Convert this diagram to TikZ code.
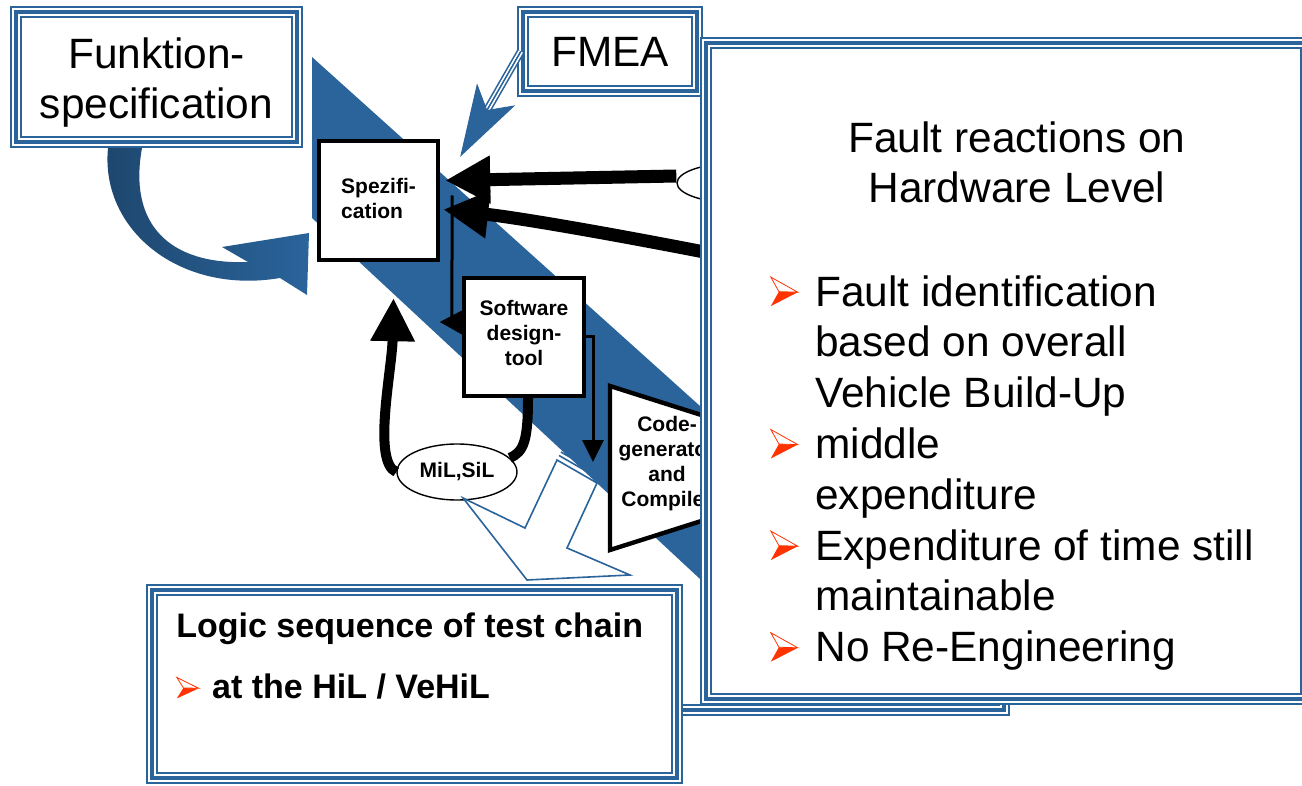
\documentclass[tikz,border=0pt]{standalone}
\usepackage{fontspec}
\setmainfont{Liberation Sans}
\usetikzlibrary{arrows.meta,calc,shapes.geometric}
\definecolor{vblue}{RGB}{42,100,155}
\definecolor{bulred}{RGB}{255,51,0}
\newcommand\hbul[2]{\tikz[x=#1,y=#2,baseline=0pt,line width=0.4pt,line join=miter]{%
	\fill[bulred] (0,0) -- (1,0.48) -- (0.3,0.5) -- cycle;
	\filldraw[draw=bulred,fill=white] (0,1) -- (1,0.48) -- (0.3,0.5) -- cycle;}}
\begin{document}
\begin{tikzpicture}[x=0.5pt, y=-0.5pt,
	triline/.style={draw=vblue, line width=2.25pt,
		preaction={draw=vblue, line width=1.25pt, double=white, double distance=3.75pt}},
	triframe/.style={rectangle, inner sep=0pt, preaction={fill=white}, triline},
	trishaft/.style={draw=vblue, line width=0.7pt,
		preaction={draw=vblue, line width=0.8pt, double=white, double distance=2.4pt}},
	blk/.style={rectangle, draw, fill=white, line width=2.2pt, inner sep=0pt,
		font=\fontsize{10.5pt}{12.5pt}\selectfont\bfseries},
	oval/.style={ellipse, draw, fill=white, line width=0.7pt, inner sep=0pt,
		minimum width=60pt, minimum height=28pt, font=\fontsize{10.5pt}{12.5pt}\selectfont\bfseries},
	bigtext/.style={font=\fontsize{21.2pt}{25pt}\selectfont},
	heavyflow/.style={line width=6.5pt, -{Triangle[length=22.5pt,width=22.5pt]}},
	thickloop/.style={line width=5pt},
	fineflow/.style={line width=1.5pt}]
	\useasboundingbox (0,0) rectangle (1302,786);
	\fill[vblue] (312,57) -- (800,496) -- (800,672) -- (312,218) -- cycle;
	\shade[left color=vblue!70!black, right color=vblue] (142,148) .. controls (128,225) and (170,265) .. (248,262)
		-- (222,247) -- (309,233) -- (307,295) -- (280,278) .. controls (180,295) and (100,230) .. (108,148) -- cycle;
	\draw[triline] (600,710) -- (1004,710) -- (1004,650);
	\node[oval, minimum height=20pt] (hil) at (737,183) {};
	\coordinate (hw) at (760,263);
	\coordinate (cgin) at (593,462);
	\filldraw[fill=white, line width=2.2pt, line join=miter] (610,386) -- (780,440) -- (780,496) -- (610,550) -- cycle;
	\node[triframe, bigtext, align=center, minimum width=140.5pt, minimum height=65pt] (fspec) at (156.5,77) {\rule{0pt}{20.5pt}Funktion-\\specification};
	\node[triframe, bigtext, minimum width=87pt, minimum height=39.5pt] (fmea) at (610,51.5) {FMEA};
	\node[blk, align=left, minimum size=59.5pt] (spez) at (378.5,200.5) {Spezifi-\\cation\rule[-2.5pt]{0pt}{2.5pt}};
	\node[blk, align=center, minimum width=60pt, minimum height=59pt] (sdt) at (524,337) {Software\\design-\\tool\rule[-4.5pt]{0pt}{4.5pt}};
	\node[oval] (mil) at (457,472) {MiL,SiL};
	\node[align=center, inner sep=0pt, font=\fontsize{10.5pt}{12.5pt}\selectfont\bfseries] (cg) at (667,464) {Code-\\generator\\and\\Compiler};
	\coordinate (fmeatip) at ([shift={(20,18)}]spez.north east);
	\draw[fineflow] ([shift={(12,-5)}]spez.east) -- ([shift={(-10,-15)}]sdt.west);
	\fill ([shift={(-22,-15)}]sdt.west) -- ++(23,-12) -- ++(0,25) -- cycle;
	\draw[fineflow, -{Triangle[length=11pt,width=10.5pt]}] (sdt.east) -| (cgin);
	\draw[heavyflow] ([shift={(0,-7)}]hil.west) -- ([shift={(5,-20)}]spez.east);
	\draw[heavyflow] (hw) .. controls (620,235) and (520,218) .. ([shift={(3,9)}]spez.east);
	\draw[thickloop] ([xshift=2pt]sdt.south) .. controls (528,440) and (524,452) .. (mil.15);
	\draw[thickloop, -{Triangle[length=21.5pt,width=21pt]}] (mil.west) .. controls (372,462) and (392,370) .. ([shift={(15,36)}]spez.south);
	\draw[trishaft] (fmea.west) -- ($(fmea.west)!0.62!(fmeatip)$);
	\draw[vblue, line width=0.5pt, -{Stealth[length=36pt,width=22pt,inset=9pt]}] (fmea.west) -- (fmeatip);
	\filldraw[draw=vblue, fill=white, line width=0.8pt, line join=miter] (557,460) -- (525,528) -- (463,498) -- (527,580)
		-- (630,575) -- (567,548) -- (597,483) -- cycle;
	\draw[vblue, line width=0.8pt] (559,455.5) -- (599,478.5) (561,452) -- (601,475);
	\node[triframe, minimum width=262.5pt, minimum height=94pt] (logic) at (414.5,684) {};
	\node[anchor=north west, align=left, inner sep=0pt, font=\fontsize{17pt}{30.5pt}\selectfont\bfseries] (logictxt) at (176,612)
		{\rule{0pt}{12.5pt}Logic sequence of test chain\\\hbul{11pt}{10.5pt}\hspace{6.5pt}at the HiL / VeHiL};
	\node[triframe, minimum width=300pt, minimum height=328pt] (fault) at (1006,371) {};
	\node[bigtext, align=center] (faulthead) at (1017,162) {Fault reactions on\\Hardware Level};
	\node[anchor=north west, align=left, inner sep=0pt, font=\fontsize{21.2pt}{25.4pt}\selectfont] (faultlist) at (770,275)
		{\rule{0pt}{15pt}\hbul{13.5pt}{14.5pt}\hspace{8.6pt}Fault identification\\
		\hspace*{22.5pt}based on overall\\
		\hspace*{22.5pt}Vehicle Build-Up\\
		\hbul{13.5pt}{14.5pt}\hspace{8.6pt}middle\\
		\hspace*{22.5pt}expenditure\\
		\hbul{13.5pt}{14.5pt}\hspace{8.6pt}Expenditure of time still\\
		\hspace*{22.5pt}maintainable\\
		\hbul{13.5pt}{14.5pt}\hspace{8.6pt}No Re-Engineering};
\end{tikzpicture}
\end{document}
